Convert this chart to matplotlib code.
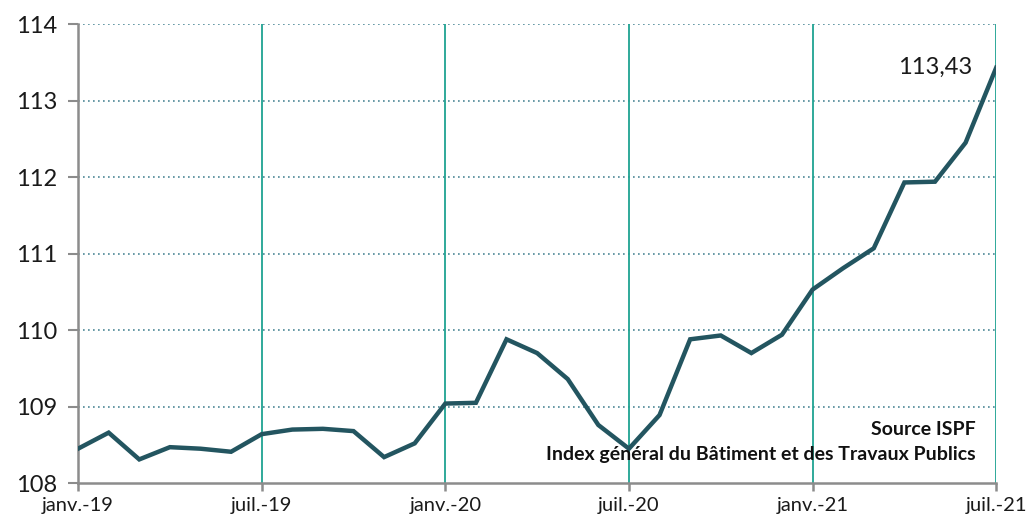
import matplotlib
matplotlib.use('Agg')
import matplotlib.pyplot as plt

plt.rcParams['font.family'] = ['Lato', 'DejaVu Sans']

# indice BTP mensuel, janv.-19 -> juil.-21
values = [108.45, 108.66, 108.31, 108.47, 108.45, 108.41,
          108.64, 108.70, 108.71, 108.68, 108.34, 108.52,
          109.04, 109.05, 109.88, 109.70, 109.36, 108.76,
          108.45, 108.89, 109.88, 109.93, 109.70, 109.94,
          110.53, 110.81, 111.07, 111.93, 111.94, 112.45,
          113.43]
months = list(range(len(values)))
tick_pos = [0, 6, 12, 18, 24, 30]
tick_labels = ['janv.-19', 'juil.-19', 'janv.-20', 'juil.-20', 'janv.-21', 'juil.-21']
yticks = [108, 109, 110, 111, 112, 113, 114]

line_col = '#235560'
vgrid_col = '#1fa392'
hgrid_col = '#4d8896'
axis_col = '#8c8c8c'

fig = plt.figure(figsize=(10.27, 5.24), dpi=100)
ax = fig.add_axes([0.076, 0.078, 0.894, 0.876])

for y in yticks[1:]:
    ax.axhline(y, color=hgrid_col, lw=1.2, ls=(0, (1, 2)), zorder=1)
for x in tick_pos[1:]:
    ax.axvline(x, color=vgrid_col, lw=1.3, zorder=1)

ax.plot(months, values, color=line_col, lw=3.2, solid_joinstyle='miter', zorder=3)

ax.set_xlim(0, 30)
ax.set_ylim(108, 114)
ax.set_xticks(tick_pos)
ax.set_xticklabels(tick_labels)
ax.set_yticks(yticks)

for s in ['top', 'right']:
    ax.spines[s].set_visible(False)
for s in ['left', 'bottom']:
    ax.spines[s].set_color(axis_col)
    ax.spines[s].set_linewidth(1.8)
ax.tick_params(axis='x', colors=axis_col, length=6, width=1.8, labelsize=14.5,
               labelcolor='#1a1a1a', pad=4)
ax.tick_params(axis='y', colors=axis_col, length=7, width=1.5, labelsize=17,
               labelcolor='#1a1a1a', pad=8)

ax.annotate('113,43', xy=(months[-1], values[-1]), xytext=(-17, 0),
            textcoords='offset points', ha='right', va='center',
            fontsize=17, color='#1a1a1a')

ax.text(0.978, 0.117, 'Source ISPF', transform=ax.transAxes, ha='right',
        va='center', fontsize=14, fontweight='bold', color='#111111')
ax.text(0.978, 0.062, 'Index général du Bâtiment et des Travaux Publics',
        transform=ax.transAxes, ha='right', va='center', fontsize=14,
        fontweight='bold', color='#111111')

fig.savefig('out.png', dpi=100)
